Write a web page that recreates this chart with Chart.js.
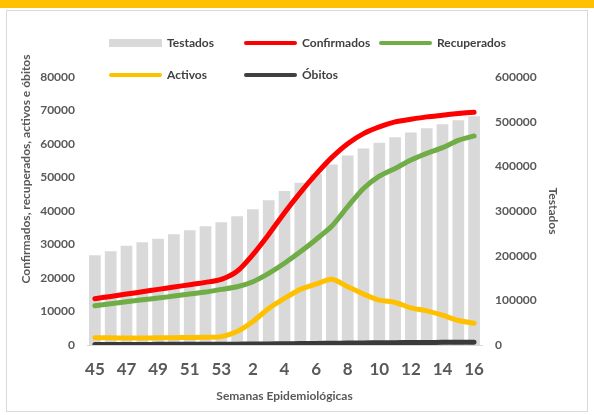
<!DOCTYPE html>
<html>
<head>
<meta charset="utf-8">
<script src="https://cdn.jsdelivr.net/npm/chart.js@4.4.1/dist/chart.umd.min.js"></script>
<style>
  html, body { margin: 0; padding: 0; background: #fff; }
  #wrap { position: relative; width: 594px; height: 415px; overflow: hidden; font-family: Lato, "Open Sans", sans-serif; }
  #band { position: absolute; left: 0; top: 0; width: 594px; height: 8px; background: #FFC000; }
  #frame { position: absolute; left: 6px; top: 10px; width: 582px; height: 402px; border: 1px solid #d9d9d9; box-sizing: border-box; }
  #chart { position: absolute; left: 0; top: 0; }
  .lg { position: absolute; font-weight: bold; font-size: 12px; color: #404040; line-height: 14px; white-space: nowrap; }
  .sw { position: absolute; }
</style>
</head>
<body>
<div id="wrap">
  <div id="band"></div>
  <div id="frame"></div>
  <canvas id="chart" width="594" height="415"></canvas>
</div>
<script>
// epidemiological weeks 45..53 then 1..16
const weeks = ['45','46','47','48','49','50','51','52','53','1','2','3','4','5','6','7','8','9','10','11','12','13','14','15','16'];

const testados = [201000, 210000, 222000, 230000, 238000, 248000, 257000, 266000, 275000, 288000, 304000, 324000, 345000,
  363000, 383000, 404000, 424000, 440000, 453000, 465000, 476000, 485000, 494000, 503000, 512000];
const confirmados = [13800, 14500, 15200, 15900, 16600, 17300, 18000, 18700, 19600, 22000, 27000, 33000, 39500,
  45500, 51000, 56000, 60100, 63100, 65100, 66600, 67400, 68100, 68600, 69100, 69500];
const recuperados = [11700, 12300, 12900, 13500, 14000, 14600, 15200, 15800, 16600, 17400, 18900, 21400, 24400,
  27800, 31500, 35500, 41300, 46700, 50400, 52700, 55200, 57200, 58900, 61100, 62400];
const activos = [2200, 2150, 2100, 2100, 2150, 2200, 2250, 2300, 2500, 4000, 7000, 10900, 13900,
  16600, 18200, 19600, 17400, 15200, 13400, 12700, 11100, 10200, 8900, 7300, 6500];
const obitos = [150, 160, 170, 180, 190, 200, 210, 220, 230, 250, 280, 320, 370,
  420, 470, 520, 570, 620, 660, 700, 730, 760, 790, 810, 830];

const leftMax = 80000, leftStep = 10000;
const rightMax = 600000, rightStep = 100000;

const grey = '#595959';
const font = 'Lato, "Open Sans", sans-serif';

// custom legend, laid out like the Excel one (two rows over the plot)
const legendLayout = [
  { label: 'Testados',    color: '#D9D9D9', box: true, x: 109, y: 39 },
  { label: 'Confirmados', color: '#FF0000', x: 244, y: 41 },
  { label: 'Recuperados', color: '#70AD47', x: 379, y: 41 },
  { label: 'Activos',     color: '#FFC000', x: 109, y: 73 },
  { label: 'Óbitos',      color: '#404040', x: 244, y: 73 }
];
const wrap = document.getElementById('wrap');
legendLayout.forEach(it => {
  const sw = document.createElement('div');
  sw.className = 'sw';
  sw.style.left = it.x + 'px';
  sw.style.width = '53px';
  sw.style.background = it.color;
  sw.style.top = it.y + 'px';
  if (it.box) { sw.style.height = '8px'; }
  else { sw.style.height = '4px'; sw.style.borderRadius = '2px'; }
  wrap.appendChild(sw);
  const t = document.createElement('div');
  t.className = 'lg';
  t.textContent = it.label;
  t.style.left = (it.x + 58) + 'px';
  t.style.top = (it.box ? it.y - 3 : it.y - 5) + 'px';
  wrap.appendChild(t);
});

// left axis title sits higher than the plot centre in the original
const leftTitle = {
  id: 'leftTitle',
  afterDraw(chart) {
    const c = chart.ctx;
    c.save();
    c.translate(26, 169);
    c.rotate(-Math.PI / 2);
    c.font = 'bold 12px ' + font;
    c.fillStyle = grey;
    c.textAlign = 'center';
    c.textBaseline = 'middle';
    c.fillText('Confirmados, recuperados, activos e óbitos', 0, 0);
    c.restore();
  }
};

const lineDs = (label, data, color, order) => ({
  type: 'line',
  label: label,
  data: data,
  borderColor: color,
  backgroundColor: color,
  borderWidth: 5,
  borderCapStyle: 'round',
  borderJoinStyle: 'round',
  pointRadius: 0,
  tension: 0.25,
  yAxisID: 'y',
  order: order
});

new Chart(document.getElementById('chart'), {
  data: {
    labels: weeks,
    datasets: [
      lineDs('Óbitos', obitos, '#3a3a3a', 0),
      lineDs('Confirmados', confirmados, '#FF0000', 1),
      lineDs('Recuperados', recuperados, '#70AD47', 2),
      lineDs('Activos', activos, '#FFC000', 3),
      {
        type: 'bar',
        label: 'Testados',
        data: testados,
        backgroundColor: '#D9D9D9',
        categoryPercentage: 1,
        barPercentage: 0.74,
        yAxisID: 'y1',
        order: 10
      }
    ]
  },
  options: {
    responsive: false,
    animation: false,
    layout: { padding: { left: 15, right: 30, top: 77, bottom: 8 } },
    plugins: { legend: { display: false }, tooltip: { enabled: false } },
    scales: {
      x: {
        grid: { display: false, drawTicks: false },
        border: { display: true, color: '#d9d9d9' },
        ticks: {
          autoSkip: false, maxRotation: 0, padding: 14, color: grey,
          font: { family: font, size: 17, weight: 'bold' },
          callback: (v, i) => (i % 2 === 0 ? weeks[i] : '')
        },
        title: { display: true, text: 'Semanas Epidemiológicas', color: grey,
          font: { family: font, size: 12, weight: 'bold' }, padding: { top: 4, bottom: 4 } },
        afterFit(s) { s.height = 62; }
      },
      y: {
        position: 'left', min: 0, max: leftMax,
        grid: { display: false, drawTicks: false },
        border: { display: false },
        ticks: { stepSize: leftStep, padding: 12, color: grey,
          font: { family: font, size: 12, weight: 'bold' }, callback: v => String(v) },
        afterFit(s) { s.width = 72; }
      },
      y1: {
        position: 'right', min: 0, max: rightMax,
        grid: { display: false, drawTicks: false },
        border: { display: false },
        ticks: { stepSize: rightStep, padding: 13, color: grey,
          font: { family: font, size: 12, weight: 'bold' }, callback: v => String(v) },
        title: { display: true, text: 'Testados', color: grey,
          font: { family: font, size: 12, weight: 'bold' }, padding: { top: 4, bottom: 4 } },
        afterFit(s) { s.width = 82; }
      }
    }
  },
  plugins: [leftTitle]
});
</script>
</body>
</html>
